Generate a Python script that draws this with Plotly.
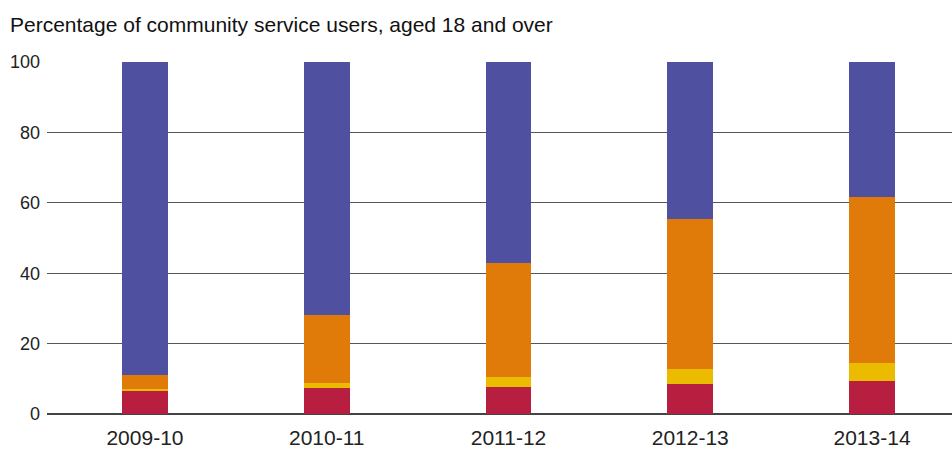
import plotly.graph_objects as go

years = ["2009-10", "2010-11", "2011-12", "2012-13", "2013-14"]
red_vals = [6.6, 7.4, 7.8, 8.6, 9.5]
yellow_vals = [0.4, 1.4, 2.8, 4.3, 5.1]
orange_vals = [4.1, 19.3, 32.3, 42.5, 47.0]
purple_vals = [round(100 - r - y - o, 1) for r, y, o in zip(red_vals, yellow_vals, orange_vals)]

series = [
    ("Red", red_vals, "#B81E3F"),
    ("Yellow", yellow_vals, "#EBBB00"),
    ("Orange", orange_vals, "#E07A08"),
    ("Purple", purple_vals, "#4F51A0"),
]

fig = go.Figure()
for name, vals, col in series:
    fig.add_trace(go.Bar(x=list(range(len(years))), y=vals, name=name,
                         marker=dict(color=col, line=dict(width=0)),
                         width=0.253, showlegend=False))

fig.update_layout(
    barmode="stack",
    width=952, height=450,
    margin=dict(l=47, r=0, t=62, b=36),
    paper_bgcolor="white", plot_bgcolor="white",
    font=dict(family="Liberation Sans, Arial, sans-serif", size=18, color="#222"),
    xaxis=dict(tickmode="array", tickvals=list(range(len(years))), ticktext=years,
               range=[-0.539, 4.44], showgrid=False, showline=False, ticks="",
               ticklabelstandoff=9,
               tickfont=dict(size=21, color="#222")),
    yaxis=dict(range=[0, 100], tickvals=[0, 20, 40, 60, 80, 100], showgrid=True,
               gridcolor="#555", gridwidth=1, zeroline=True, zerolinecolor="#444",
               zerolinewidth=2, ticks="", ticklabelstandoff=6,
               tickfont=dict(size=18, color="#222")),
    annotations=[dict(text="Percentage of community service users, aged 18 and over",
                      xref="paper", yref="paper", x=-0.0435, y=1.0, yshift=38,
                      xanchor="left", yanchor="middle", showarrow=False,
                      font=dict(size=21, color="#111"))],
)
fig.write_html("out.html", config={"displayModeBar": False},
               post_script="document.body.style.margin='0';")
